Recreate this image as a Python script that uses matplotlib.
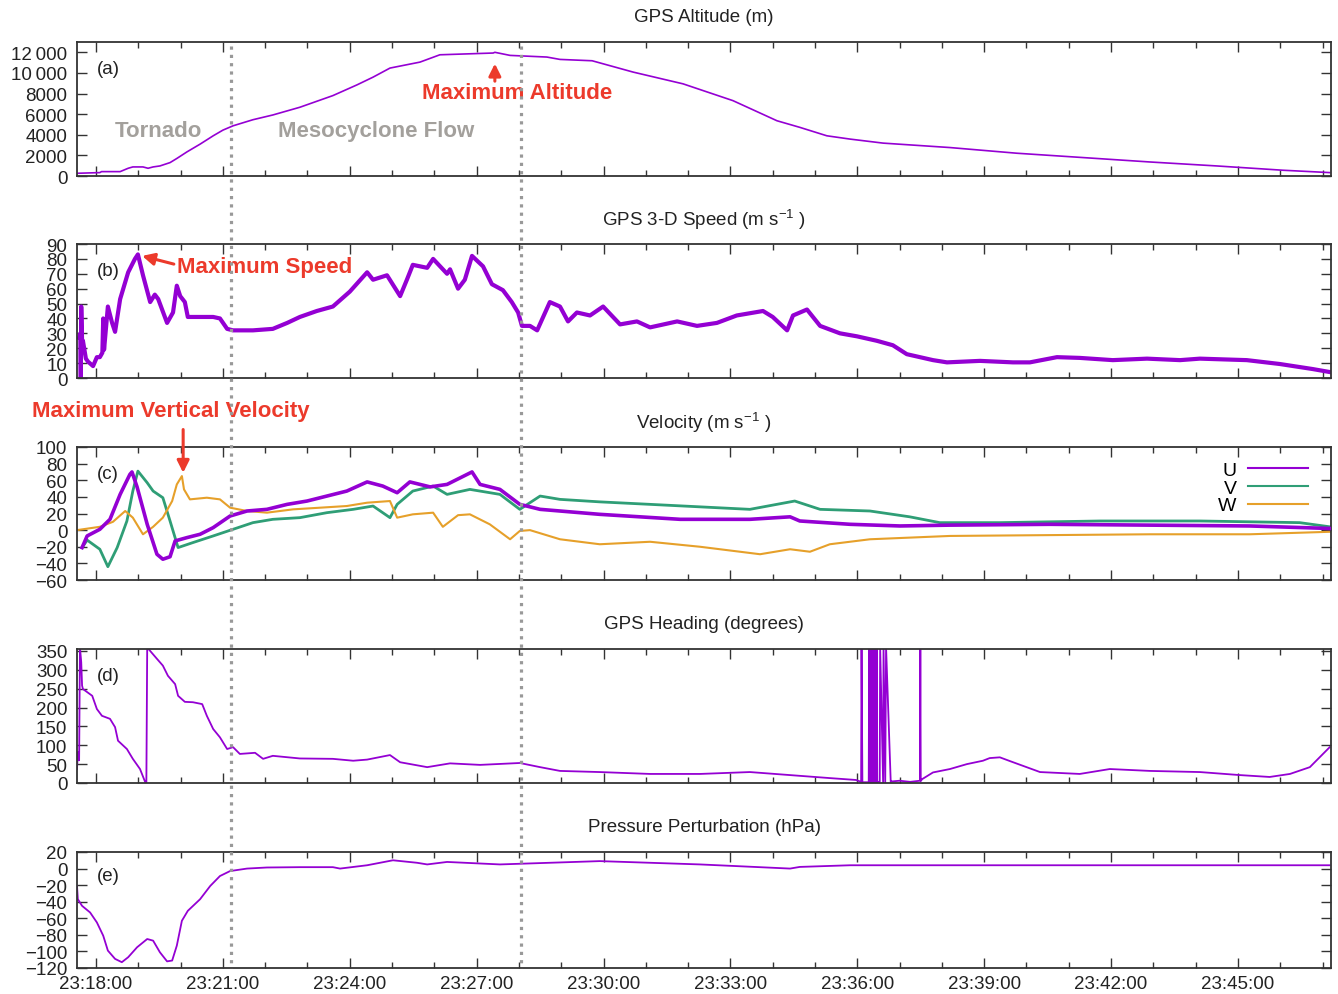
import matplotlib.pyplot as plt
from matplotlib.lines import Line2D
from matplotlib import transforms

plt.rcParams['font.family'] = ['Liberation Sans', 'DejaVu Sans']
plt.rcParams['mathtext.fontset'] = 'custom'
plt.rcParams['mathtext.rm'] = 'Liberation Sans'
plt.rcParams['mathtext.it'] = 'Liberation Sans:italic'
plt.rcParams['mathtext.bf'] = 'Liberation Sans:bold'
plt.rcParams['font.size'] = 13.5

# time in minutes after 23:18:00
alt_t = [-0.45, 0.09, 0.13, 0.57, 0.76, 0.87, 1.11, 1.23, 1.35, 1.51, 1.75, 1.91, 2.15, 2.46,
         2.77, 3.00, 3.24, 3.71, 4.18, 4.82, 5.60, 6.17, 6.55, 6.95, 7.66, 8.13, 9.39, 9.43,
         9.79, 10.66, 10.97, 11.73, 12.70, 13.88, 15.06, 16.10, 16.64, 17.28, 17.83, 18.61,
         20.19, 21.77, 23.33, 24.92, 26.50, 28.06, 29.17]
alt_v = [263, 330, 425, 425, 750, 880, 880, 750, 880, 975, 1300, 1700, 2340, 3090,
         3900, 4450, 4870, 5460, 5920, 6670, 7800, 8840, 9590, 10470, 11050, 11760, 11930, 12000,
         11700, 11540, 11310, 11180, 10080, 8940, 7310, 5360, 4720, 3900, 3580, 3190,
         2760, 2210, 1790, 1360, 975, 560, 330]

spd_t = [-0.40, -0.37, -0.36, -0.35, -0.33, -0.31, -0.24, -0.19, -0.07, 0.02, 0.09, 0.15, 0.17,
         0.19, 0.28, 0.38, 0.45, 0.57, 0.76, 0.92, 0.99, 1.11, 1.28, 1.39, 1.47, 1.68, 1.82,
         1.91, 1.99, 2.10, 2.17, 2.46, 2.77, 2.93, 3.10, 3.24, 3.71, 4.18, 4.52, 4.82, 5.22,
         5.60, 6.00, 6.41, 6.55, 6.88, 7.19, 7.35, 7.49, 7.83, 7.97, 8.30, 8.37, 8.56, 8.72,
         8.89, 9.15, 9.36, 9.62, 9.83, 9.98, 10.07, 10.26, 10.43, 10.73, 10.97, 11.16, 11.37,
         11.68, 11.99, 12.39, 12.79, 13.10, 13.74, 14.21, 14.68, 15.15, 15.77, 16.00, 16.34,
         16.48, 16.81, 17.12, 17.59, 17.99, 18.46, 18.84, 19.17, 19.79, 20.12, 20.90, 21.68,
         22.08, 22.72, 23.26, 24.04, 24.85, 25.63, 26.10, 27.21, 27.99, 28.77, 29.17]
spd_v = [27, 30, 0, 48, 25, 25, 13, 11, 8, 14, 14, 17, 40,
         19, 48, 37, 31, 53, 71, 80, 83, 69, 51, 56, 53, 37, 44,
         62, 55, 51, 41, 41, 41, 40, 33, 32, 32, 33, 37, 41, 45,
         48, 58, 71, 66, 69, 55, 66, 76, 74, 80, 70, 73, 60, 66,
         82, 75, 63, 59, 51, 44, 35, 35, 32, 51, 48, 38, 44,
         42, 48, 36, 38, 34, 38, 35, 37, 42, 45, 41, 32,
         42, 46, 35, 30, 28, 25, 22, 16, 12, 10.5, 11.5, 10.5,
         10.5, 14, 13.5, 12, 13, 12, 13, 12, 9.4, 6, 4]

u_t = [-0.33, -0.21, 0.09, 0.33, 0.57, 0.80, 0.85, 0.97, 1.21, 1.44, 1.58, 1.75, 1.87, 2.15,
       2.46, 2.77, 3.17, 3.57, 4.04, 4.52, 4.99, 5.46, 5.93, 6.41, 6.78, 7.12, 7.42, 7.90,
       8.30, 8.89, 9.08, 9.55, 10.02, 10.50, 11.91, 12.86, 13.81, 15.46, 16.41, 16.64, 17.83,
       19.01, 20.19, 22.55, 24.92, 27.28, 29.17]
u_v = [-21, -7, 1, 13, 43, 67, 70, 52, 7, -29, -35, -32, -13, -9,
       -5, 3, 17, 23, 25, 31, 35, 41, 47, 58, 53, 45, 58, 52,
       55, 70, 55, 49, 31, 25, 19, 16, 13, 13, 16, 11, 7,
       5, 6, 7, 6, 5, 2]

v_t = [-0.33, -0.21, 0.09, 0.28, 0.50, 0.73, 0.87, 0.99, 1.21, 1.35, 1.58, 1.75, 1.94, 2.29,
       2.77, 3.24, 3.71, 4.18, 4.82, 5.46, 6.08, 6.55, 6.95, 7.12, 7.49, 7.97, 8.30, 8.84,
       9.55, 10.02, 10.50, 10.97, 11.91, 13.10, 14.28, 15.46, 16.52, 17.12, 18.30, 19.24,
       19.95, 21.37, 23.74, 26.10, 28.46, 29.17]
v_v = [-21, -12, -23, -44, -21, 11, 47, 71, 57, 47, 39, 11, -21, -15,
       -7, 1, 9, 13, 15, 21, 25, 29, 15, 31, 47, 53, 43, 49,
       43, 25, 41, 37, 34, 31, 28, 25, 35, 25, 23, 16,
       9, 9, 11, 11, 9, 4]

w_t = [-0.45, 0.09, 0.40, 0.69, 0.87, 1.11, 1.35, 1.58, 1.80, 1.91, 2.03, 2.08, 2.22, 2.62,
       2.93, 3.17, 3.57, 4.04, 4.66, 5.30, 5.93, 6.41, 6.95, 7.12, 7.49, 7.97, 8.20, 8.56,
       8.84, 9.31, 9.79, 10.02, 10.26, 10.97, 11.91, 13.10, 14.28, 15.70, 16.41, 16.88,
       17.35, 18.30, 20.19, 22.55, 24.92, 27.28, 29.17]
w_v = [0, 4, 10, 23, 15, -5, 4, 15, 35, 55, 65, 49, 37, 39,
       37, 27, 23, 21, 25, 27, 29, 33, 35, 15, 19, 21, 4, 18,
       19, 7, -11, -1, 0, -11, -17, -14, -20, -29, -23, -26,
       -17, -11, -7, -6, -5, -5, -2]

hdg_t = [-0.45, -0.43, -0.40, -0.38, -0.35, -0.33, -0.31, -0.09, 0.02, 0.14, 0.33, 0.45, 0.52,
         0.73, 0.87, 1.04, 1.16, 1.19, 1.21, 1.44, 1.58, 1.70, 1.87, 1.94, 2.10, 2.29, 2.51,
         2.62, 2.77, 2.93, 3.10, 3.24, 3.40, 3.76, 3.95, 4.18, 4.82, 5.60, 6.08, 6.41, 6.95,
         7.19, 7.83, 8.37, 9.08, 10.02, 10.50, 10.97, 11.91, 13.10, 14.28, 15.46, 16.64, 17.35,
         17.97, 18.09, 18.10, 18.12, 18.27, 18.28, 18.30, 18.31, 18.33, 18.34, 18.36, 18.37,
         18.39, 18.40, 18.42, 18.43, 18.45, 18.46, 18.47, 18.53, 18.54, 18.61, 18.62, 18.66,
         18.68, 18.79, 18.80, 19.00, 19.25, 19.48, 19.49, 19.50, 19.53, 19.79, 20.19, 20.59,
         20.97, 21.13, 21.37, 21.61, 22.32, 23.26, 23.97, 24.92, 26.10, 27.04, 27.75, 28.23,
         28.70, 29.17]
hdg_v = [37, 82, 60, 359, 320, 258, 249, 231, 196, 178, 170, 148, 112,
         90, 64, 37, 3, 0, 359, 329, 311, 284, 262, 231, 215, 214, 209,
         178, 143, 121, 90, 95, 77, 80, 64, 72, 65, 64, 59, 62, 74,
         55, 42, 52, 48, 53, 42, 32, 29, 24, 24, 29, 19, 13,
         8, 3, 359, 2, 2, 359, 1, 358, 2, 359, 1, 358,
         3, 359, 2, 358, 2, 359, 3, 3, 359, 2, 359, 2,
         359, 3, 4, 6, 3, 6, 359, 5, 10, 28, 37, 50,
         59, 66, 68, 58, 29, 24, 37, 32, 29, 21, 16, 24,
         42, 95]

prs_t = [-0.45, -0.43, -0.33, -0.14, 0.02, 0.17, 0.28, 0.45, 0.61, 0.76, 0.97, 1.21, 1.35,
         1.51, 1.68, 1.80, 1.91, 2.03, 2.17, 2.46, 2.70, 2.93, 3.17, 3.57, 4.04, 4.82, 5.60,
         5.77, 6.41, 7.02, 7.59, 7.83, 8.30, 9.55, 11.91, 14.28, 16.41, 16.64, 17.83, 21.37,
         29.17]
prs_v = [-21, -37, -45, -53, -65, -81, -99, -109, -113, -107, -95, -85, -87,
         -101, -112, -111, -93, -63, -51, -37, -21, -9, -3, 0, 1.3, 1.7, 1.7,
         0, 4, 10, 7, 5, 8, 5, 9, 5, 0, 2, 4, 4,
         4]

x_major = list(range(0, 28, 3))
x_labels = ['23:18:00', '23:21:00', '23:24:00', '23:27:00', '23:30:00',
            '23:33:00', '23:36:00', '23:39:00', '23:42:00', '23:45:00']
event_lines = [3.19, 10.04]

titles = ['GPS Altitude (m)', 'GPS 3-D Speed (m s$^{-1}$ )', 'Velocity (m s$^{-1}$ )',
          'GPS Heading (degrees)', 'Pressure Perturbation (hPa)']
panel_tags = ['(a)', '(b)', '(c)', '(d)', '(e)']
y_ticks = [list(range(0, 12001, 2000)), list(range(0, 91, 10)), list(range(-60, 101, 20)),
           list(range(0, 351, 50)), list(range(-120, 21, 20))]
y_labels0 = ['0', '2000', '4000', '6000', '8000', '10\u2009000', '12\u2009000']
y_lims = [(0, 13000), (0, 90), (-60, 100), (0, 355), (-120, 20)]

purple = '#9400d3'
green = '#2f9e76'
orange = '#e6a02a'
red = '#ec3a2b'
gray_txt = '#a3a09c'

W, H = 1338, 995
boxes = [(43, 177), (245, 379), (448, 581), (650, 784), (853, 969)]
fig = plt.figure(figsize=(W / 100, H / 100), dpi=100)
axes = []
for i, (top, bot) in enumerate(boxes):
    ax = fig.add_axes([77 / W, 1 - bot / H, (1331 - 77) / W, (bot - top) / H])
    ax.set_xlim(-0.45, 29.2)
    ax.set_ylim(*y_lims[i])
    ax.set_xticks(x_major)
    ax.set_xticks(range(0, 30), minor=True)
    ax.set_yticks(y_ticks[i])
    if i == 0:
        ax.set_yticklabels(y_labels0)
    if i == 4:
        ax.set_xticklabels(x_labels)
    else:
        ax.set_xticklabels([])
    ax.tick_params(which='both', direction='in', top=True, right=True, color='#333333',
                   labelcolor='#222222', labelsize=13.5)
    ax.tick_params(which='major', length=7, width=1.0)
    ax.tick_params(which='minor', length=4, width=1.0)
    ax.tick_params(axis='y', pad=7)
    ax.tick_params(axis='x', pad=5)
    for s in ax.spines.values():
        s.set_linewidth(1.3)
        s.set_color('#333333')
    h = bot - top
    ax.text(0.5, 1 + 25 / h, titles[i], transform=ax.transAxes, ha='center', va='center',
            fontsize=13.5, color='#222222')
    ax.text(0.016, 0.80, panel_tags[i], transform=ax.transAxes, ha='left', va='center',
            fontsize=13.5, color='#222222')
    axes.append(ax)

ax_a, ax_b, ax_c, ax_d, ax_e = axes

ax_a.plot(alt_t, alt_v, color=purple, lw=1.2)
ax_b.plot(spd_t, spd_v, color=purple, lw=3.0)
ax_c.plot(u_t, u_v, color=purple, lw=2.6, label='U', zorder=3)
ax_c.plot(v_t, v_v, color=green, lw=2.0, label='V', zorder=2)
ax_c.plot(w_t, w_v, color=orange, lw=1.5, label='W', zorder=2)
ax_d.plot(hdg_t, hdg_v, color=purple, lw=1.3)
ax_e.plot(prs_t, prs_v, color=purple, lw=1.3)

leg = ax_c.legend(loc='upper right', bbox_to_anchor=(0.982, 0.89), frameon=False,
                  markerfirst=False, handlelength=3.1, handletextpad=0.6, labelspacing=0.0,
                  borderaxespad=0, borderpad=0, fontsize=14)
for line in leg.get_lines():
    line.set_linewidth(1.5)

# annotations
ax_a.text(1.47, 4450, 'Tornado', color=gray_txt, fontsize=16, fontweight='bold',
          ha='center', va='center')
ax_a.text(6.62, 4450, 'Mesocyclone Flow', color=gray_txt, fontsize=16, fontweight='bold',
          ha='center', va='center')
ax_a.text(9.95, 8060, 'Maximum Altitude', color=red, fontsize=16, fontweight='bold',
          ha='center', va='center')
ax_a.annotate('', xy=(9.43, 10900), xytext=(9.43, 9200),
              arrowprops=dict(arrowstyle='-|>', color=red, lw=2.2, mutation_scale=18,
                              shrinkA=0, shrinkB=0))
ax_b.text(1.91, 75, 'Maximum Speed', color=red, fontsize=16, fontweight='bold',
          ha='left', va='center')
ax_b.annotate('', xy=(1.09, 82), xytext=(1.84, 76.5),
              arrowprops=dict(arrowstyle='-|>', color=red, lw=2.2, mutation_scale=18,
                              shrinkA=0, shrinkB=0))
ax_c.text(-1.51, 144, 'Maximum Vertical Velocity', color=red, fontsize=16, fontweight='bold',
          ha='left', va='center', clip_on=False)
ax_c.annotate('', xy=(2.06, 69), xytext=(2.06, 121),
              arrowprops=dict(arrowstyle='-|>', color=red, lw=2.2, mutation_scale=18,
                              shrinkA=0, shrinkB=0), annotation_clip=False)

# dotted event lines through all panels
tr = transforms.blended_transform_factory(ax_a.transData, fig.transFigure)
for xe in event_lines:
    fig.add_artist(Line2D([xe, xe], [1 - 47 / H, 1 - 969 / H], transform=tr,
                          color='#999999', lw=2.3, linestyle=(0, (1, 1.6)), zorder=10))

fig.savefig('out.png', dpi=100)
